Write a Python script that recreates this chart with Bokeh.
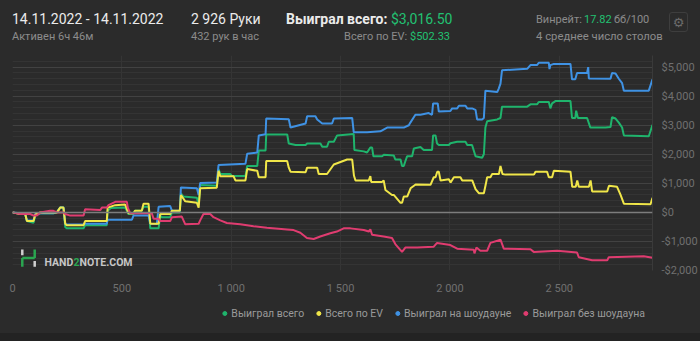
from bokeh.plotting import figure
from bokeh.models import Range1d, FixedTicker, Span, Legend, LegendItem, Div
from bokeh.layouts import column
from bokeh.embed import file_html
from bokeh.resources import INLINE
from bokeh.core.properties import value

# ---------------- data (hands played, cumulative $) ----------------
total_hands = [0, 35, 58, 66, 96, 104, 127, 187, 203, 218, 233, 241, 248, 325, 332, 431, 435, 450, 515, 523,
               530, 553, 560, 591, 599, 622, 630, 668, 675, 683, 721, 729, 765, 770, 780, 843, 851, 858, 934, 942,
               950, 996, 1004, 1065, 1073, 1119, 1126, 1157, 1160, 1256, 1263, 1294, 1340, 1347, 1408, 1416, 1438,
               1446, 1469, 1484, 1560, 1563, 1606, 1621, 1636, 1644, 1650, 1690, 1697, 1743, 1750, 1774, 1781,
               1789, 1796, 1804, 1827, 1835, 1865, 1880, 1918, 1923, 1934, 1941, 1949, 1995, 2002, 2033, 2071,
               2079, 2101, 2117, 2147, 2155, 2162, 2170, 2216, 2231, 2238, 2353, 2368, 2398, 2406, 2452, 2459,
               2467, 2482, 2551, 2558, 2573, 2577, 2585, 2627, 2642, 2711, 2734, 2741, 2757, 2772, 2787, 2795,
               2909, 2926]
total_won = [0, -55, -55, -300, -360, -110, -30, -30, 0, 165, 165, -500, -550, -550, -440, -440, 55, 150, 165, 55,
             -55, -55, 55, 55, 190, 190, -550, -550, -110, -165, -165, 0, 0, 660, 550, 500, 275, 940, 920, 1490,
             1320, 1320, 1250, 1250, 1600, 1600, 2130, 2130, 2680, 2680, 2370, 2320, 2320, 2370, 2370, 2260, 2260,
             2430, 2430, 2650, 2700, 2150, 2100, 2060, 2230, 2230, 1930, 1930, 1980, 1960, 1820, 1820, 1600,
             1600, 1760, 1930, 1930, 2200, 2250, 2150, 2150, 2650, 2650, 2370, 2320, 2320, 2380, 2430, 2430,
             2320, 2320, 1930, 1880, 2000, 2920, 3140, 3200, 3250, 3640, 3640, 3720, 3720, 3800, 3800, 3580,
             3750, 3830, 3830, 3250, 3250, 3500, 3250, 3250, 2920, 2920, 2940, 3280, 3230, 3090, 2920, 2650,
             2620, 3016.5]

ev_hands = [0, 35, 58, 66, 96, 104, 127, 187, 203, 218, 233, 241, 248, 325, 332, 431, 435, 470, 515, 523,
            530, 553, 560, 591, 599, 622, 630, 668, 675, 721, 729, 765, 770, 790, 843, 851, 858, 934, 942, 950,
            1011, 1019, 1065, 1073, 1119, 1126, 1157, 1160, 1256, 1263, 1271, 1340, 1347, 1393, 1400, 1438, 1469,
            1530, 1553, 1561, 1568, 1629, 1636, 1640, 1690, 1697, 1705, 1735, 1743, 1774, 1781, 1789, 1805, 1820,
            1843, 1911, 1926, 1934, 1942, 1949, 1957, 1995, 2003, 2018, 2048, 2056, 2102, 2117, 2132, 2155, 2163,
            2170, 2185, 2193, 2224, 2231, 2240, 2254, 2384, 2391, 2444, 2452, 2467, 2475, 2551, 2559, 2575, 2582,
            2589, 2635, 2643, 2650, 2719, 2727, 2764, 2780, 2795, 2917, 2926]
ev_won = [0, -55, -55, -300, -300, -80, 0, 0, 0, 165, 165, -390, -440, -440, -300, -300, 165, 250, 270, 110,
          -30, -30, 55, 55, 300, 300, -390, -390, -55, -55, 55, 55, 600, 380, 330, 165, 830, 850, 1430, 1240,
          1240, 1100, 1100, 1490, 1430, 1210, 1210, 1765, 1765, 1540, 1400, 1380, 1540, 1540, 1320, 1320, 1650,
          1820, 1820, 1270, 1100, 1100, 1250, 1050, 1050, 1100, 770, 600, 600, 330, 330, 550, 550, 830,
          960, 950, 1210, 1210, 1400, 1400, 1100, 1140, 1030, 1210, 1210, 1100, 1100, 800, 660, 660, 940,
          1210, 1210, 1320, 1320, 1600, 1320, 1300, 1300, 1400, 1400, 1210, 1210, 1430, 1400, 880, 880, 1100,
          880, 880, 1100, 720, 720, 915, 880, 600, 300, 280, 502.33]

sd_hands = [0, 35, 58, 66, 96, 104, 127, 187, 203, 218, 233, 241, 248, 325, 332, 431, 435, 546, 553, 622,
            630, 660, 668, 721, 729, 765, 770, 843, 851, 858, 934, 942, 1065, 1073, 1119, 1126, 1157, 1160, 1263,
            1271, 1340, 1347, 1385, 1393, 1416, 1461, 1469, 1553, 1560, 1621, 1682, 1713, 1789, 1812, 1819, 1842,
            1865, 1903, 1918, 1923, 1944, 1949, 2002, 2010, 2033, 2041, 2071, 2079, 2101, 2117, 2124, 2147, 2155,
            2162, 2216, 2223, 2231, 2238, 2353, 2368, 2398, 2406, 2452, 2455, 2459, 2475, 2551, 2558, 2573, 2581,
            2627, 2632, 2635, 2734, 2741, 2757, 2772, 2787, 2795, 2909, 2926]
sd_won = [0, -30, -55, -276, -276, -55, -30, -30, 0, 165, 165, -390, -420, -420, -390, -390, -254, -254, -110, -110,
          -390, -400, 190, 220, 55, 55, 860, 830, 600, 1015, 1030, 1630, 1670, 2020, 2060, 2650, 2690, 3230, 3210,
          2920, 3060, 3310, 3310, 3200, 3060, 3060, 3230, 3250, 2760, 2760, 2790, 2920, 2920, 3000, 3090, 3360,
          3360, 3420, 3360, 3750, 3750, 3470, 3490, 3580, 3580, 3670, 3670, 3580, 3580, 3530, 3200, 3200, 3250,
          4190, 4140, 4260, 4430, 4890, 4940, 5070, 5070, 5150, 5150, 4930, 5070, 5110, 5110, 4580, 4580, 4800,
          4800, 5000, 4610, 4600, 4800, 4780, 4600, 4450, 4190, 4190, 4580]

nsd_hands = [0, 35, 81, 96, 111, 127, 172, 187, 203, 233, 241, 264, 325, 332, 401, 409, 431, 439, 470, 523,
             527, 538, 599, 637, 645, 668, 675, 721, 729, 774, 790, 851, 858, 873, 904, 919, 950, 980, 1041, 1072,
             1102, 1163, 1255, 1285, 1316, 1346, 1377, 1407, 1453, 1483, 1514, 1545, 1606, 1629, 1636, 1644, 1697,
             1735, 1751, 1781, 1796, 1850, 1926, 1941, 2002, 2033, 2109, 2112, 2121, 2139, 2170, 2185, 2231, 2246,
             2368, 2383, 2490, 2581, 2589, 2650, 2719, 2726, 2886, 2926]
nsd_won = [0, -55, -55, -110, -110, 0, 55, 55, 0, 0, -55, -110, -110, 110, 80, 165, 165, 250, 365, 365,
           165, -30, -30, -30, -220, -220, -300, -300, -165, -145, -410, -390, -275, -55, -55, -165, -275, -365,
           -410, -440, -475, -530, -585, -610, -700, -880, -915, -830, -720, -660, -550, -550, -605, -660, -585,
           -770, -830, -880, -1100, -1360, -1210, -1210, -1180, -1050, -1125, -1250, -1290, -1410, -1210, -1320,
           -1320, -1050, -940, -1250, -1270, -1360, -1320, -1380, -1545, -1650, -1650, -1545, -1510, -1560]

series_labels = ["Выиграл всего", "Всего по EV", "Выиграл на шоудауне", "Выиграл без шоудауна"]
series_colors = ["#1fb46c", "#f0e649", "#3f92e4", "#e03c70"]

x_ticks = [0, 500, 1000, 1500, 2000, 2500]
x_tick_labels = ["0", "500", "1 000", "1 500", "2 000", "2 500"]
y_ticks = [-2000, -1000, 0, 1000, 2000, 3000, 4000, 5000]
y_tick_labels = ["-$2,000", "-$1,000", "$0", "$1,000", "$2,000", "$3,000", "$4,000", "$5,000"]
y_minor = list(range(-2000, 5401, 200))

BG = "#2b2b2b"
FONT = "Roboto"
WHITE = "#ebebeb"
GREY = "#8c8c8c"
GREEN_TXT = "#22c172"

# ---------------- header (HTML text) ----------------
def span(left, baseline, text, size, color, weight="normal", right=None):
    top = baseline - 0.8415 * size
    pos = f"left:{left}px;" if right is None else f"right:{700 - right}px;"
    return (f'<span style="position:absolute;{pos}top:{top:.1f}px;font-size:{size}px;'
            f'line-height:1;color:{color};font-weight:{weight};white-space:nowrap;">{text}</span>')


SUB = 11
header_parts = [
    span(12, 24, "14.11.2022 - 14.11.2022", 14, WHITE),
    span(12, 40, "Активен 6ч 46м", SUB, GREY),
    span(191, 24, "2 926 Руки", 14, WHITE),
    span(191, 40, "432 рук в час", SUB, GREY),
    span(286, 24, f'Выиграл всего: <span style="color:{GREEN_TXT};font-weight:normal;">$3,016.50</span>',
         14, WHITE, weight="bold"),
    span(0, 40, f'Всего по EV: <span style="color:{GREEN_TXT};">$502.33</span>', SUB, GREY, right=450),
    span(536, 23, "Винрейт:", 11, GREY),
    span(584, 23, "17.82", 11, GREEN_TXT),
    span(614, 23, "бб/100", 11, GREY),
    span(536, 40, "4 среднее число столов", 11.3, GREY),
    ('<span style="position:absolute;left:669px;top:12px;width:19px;height:20px;border:1px solid #3e3e3e;'
     'border-radius:3px;color:#6c6c6c;font-family:\'DejaVu Sans\';font-size:13px;line-height:20px;'
     'text-align:center;">&#9881;</span>'),
]
header = Div(text="".join(header_parts), width=700, height=50, margin=0,
             styles={"font-family": "Roboto", "position": "relative", "overflow": "hidden",
                     "background-color": BG})

# ---------------- main chart ----------------
X0, X1 = 0, 2926
Y0, Y1 = -2000, 5400
FL, FR, FT, FB = 12, 652, 55, 279   # frame edges in page pixels
TOP, BOTTOM = 50, 297               # page y range of the chart figure

p = figure(width=700, height=BOTTOM - TOP, x_range=Range1d(X0, X1), y_range=Range1d(Y0, Y1),
           y_axis_location="right", toolbar_location=None, output_backend="svg",
           min_border_left=FL, min_border_right=700 - FR, min_border_top=FT - TOP,
           min_border_bottom=BOTTOM - FB, margin=0,
           background_fill_color=None, border_fill_color=None, outline_line_color=None,
           styles={"background-color": BG})


# helpers that map page pixels to data coordinates (for decorations only)
def px_x(px):
    return X0 + (px - FL) / (FR - FL) * (X1 - X0)


def px_y(py):
    return Y1 - (py - FT) / (FB - FT) * (Y1 - Y0)


p.xaxis.ticker = FixedTicker(ticks=x_ticks)
p.xaxis.major_label_overrides = dict(zip(x_ticks, x_tick_labels))
p.yaxis.ticker = FixedTicker(ticks=y_ticks, minor_ticks=y_minor)
p.yaxis.major_label_overrides = dict(zip(y_ticks, y_tick_labels))
p.xgrid.ticker = FixedTicker(ticks=x_ticks)
p.ygrid.ticker = FixedTicker(ticks=y_ticks, minor_ticks=y_minor)

for ax in (p.xaxis, p.yaxis):
    ax.major_tick_line_color = None
    ax.minor_tick_line_color = None
    ax.major_label_text_color = "#707070"
    ax.major_label_text_font = FONT
    ax.major_label_text_font_size = "11px"
p.xaxis.axis_line_color = None
p.yaxis.axis_line_color = "#3a3a3a"
p.xaxis.major_label_standoff = 5
p.yaxis.major_label_standoff = 3

p.xgrid.grid_line_color = "#353535"
p.ygrid.grid_line_color = "#424242"
p.ygrid.minor_grid_line_color = "#343434"

p.add_layout(Span(location=0, dimension="width", line_color="#7d7d7d", line_width=1.5))

# ---------------- watermark (decoration) ----------------
p.segment(x0=[px_x(21.8), px_x(21.8), px_x(34.2)], y0=[px_y(275), px_y(266), px_y(266)],
          x1=[px_x(21.8), px_x(34.2), px_x(34.2)], y1=[px_y(266), px_y(266), px_y(257)],
          line_color="#2aa650", line_width=2.5)
p.segment(x0=[px_x(21.8), px_x(34.2)], y0=[px_y(257), px_y(269)],
          x1=[px_x(21.8), px_x(34.2)], y1=[px_y(263), px_y(275)],
          line_color="#d0d0d0", line_width=2.5)
for s, xpx, col in (("HAND", 44, "#c6c6c6"), ("2", 73, "#2aa650"), ("NOTE.COM", 79, "#c6c6c6")):
    p.text(x=[px_x(xpx)], y=[px_y(270.5)], text=[s], text_font=value(FONT), text_font_size="10.5px",
           text_font_style="bold", text_color=col, text_baseline="alphabetic")

# ---------------- series ----------------
series = [(total_hands, total_won), (sd_hands, sd_won), (ev_hands, ev_won), (nsd_hands, nsd_won)]
order = [0, 2, 1, 3]
for (xs, ys), idx in zip(series, order):
    p.line(xs, ys, line_color=series_colors[idx], line_width=2)

# ---------------- legend (own strip under the chart) ----------------
foot = figure(width=700, height=36, x_range=Range1d(0, 1), y_range=Range1d(0, 1),
              toolbar_location=None, output_backend="svg", x_axis_location=None, y_axis_location=None,
              min_border_left=FL, min_border_right=700 - FR, min_border_top=0, min_border_bottom=4,
              margin=0, background_fill_color=None, border_fill_color=None, outline_line_color=None,
              styles={"background-color": BG})
foot.grid.grid_line_color = None
items = []
for lab, col in zip(series_labels, series_colors):
    r = foot.scatter(x=[5], y=[5], marker="circle", size=5, fill_color=col, line_color=col)
    items.append(LegendItem(label=lab, renderers=[r]))
legend = Legend(items=items, orientation="horizontal", location="right",
                label_text_font=FONT, label_text_font_size="10.5px", label_text_color="#9a9a9a",
                background_fill_alpha=0, border_line_alpha=0, glyph_width=10, glyph_height=14,
                label_standoff=2, spacing=9, padding=0, margin=7, label_height=14)
foot.add_layout(legend, "center")

band = Div(text="", width=700, height=8, margin=0, styles={"background-color": "#232323"})

layout = column(header, p, foot, band, spacing=0, margin=0, styles={"background-color": BG})
html = file_html(layout, INLINE)
html = html.replace("<body", f'<body style="margin:0;background-color:{BG};"', 1)
open("out.html", "w").write(html)
